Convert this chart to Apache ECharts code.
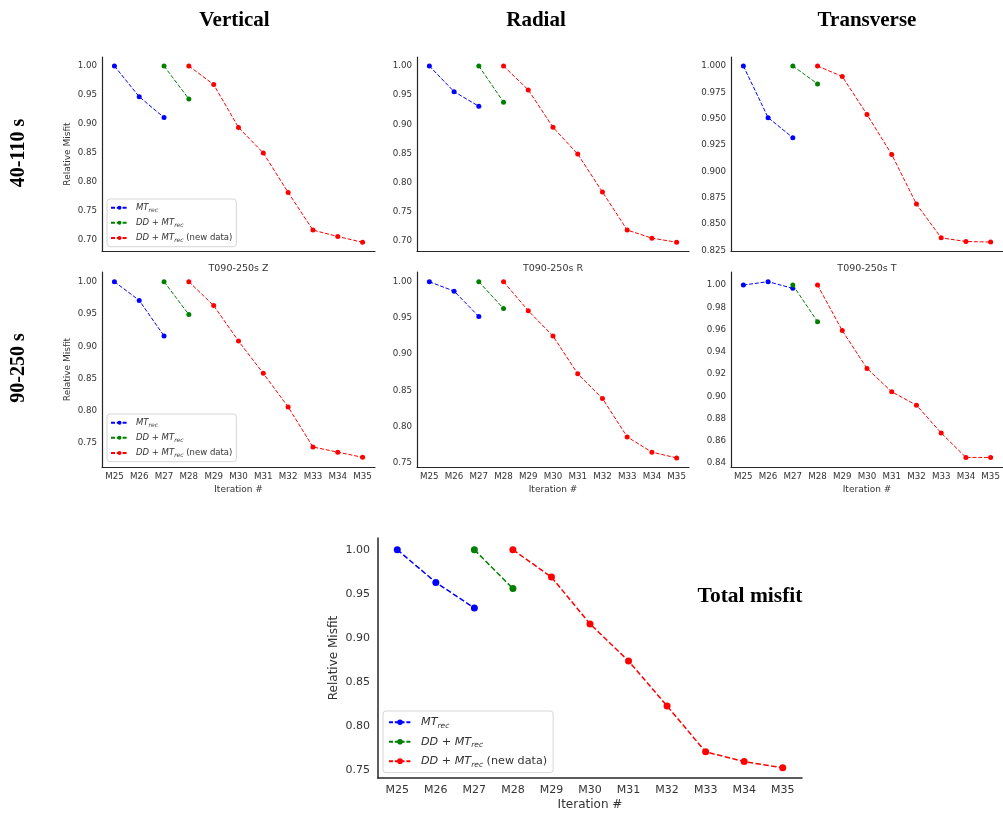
<!DOCTYPE html>
<html>
<head>
<meta charset="utf-8">
<script src="https://cdn.jsdelivr.net/npm/echarts@6/dist/echarts.min.js"></script>
<style>html,body{margin:0;padding:0;background:#fff;}#c{width:1003px;height:816px;}</style>
</head>
<body>
<div id="c"></div>
<script>
// ---------- DATA ----------
const iterations = ['M25','M26','M27','M28','M29','M30','M31','M32','M33','M34','M35'];
const seriesNames = ['MTrec', 'DD+MTrec', 'DD+MTrec (new data)'];
// start index into iterations for each series
const mtStart = 0, ddStart = 2, newStart = 3;

// 40-110 s
const vert40_mt  = [1.000, 0.947, 0.911];
const vert40_dd  = [1.000, 0.943];
const vert40_new = [1.000, 0.968, 0.894, 0.850, 0.782, 0.717, 0.706, 0.696];

const rad40_mt  = [1.000, 0.956, 0.931];
const rad40_dd  = [1.000, 0.938];
const rad40_new = [1.000, 0.959, 0.895, 0.849, 0.784, 0.719, 0.705, 0.698];

const trans40_mt  = [1.000, 0.951, 0.932];
const trans40_dd  = [1.000, 0.983];
const trans40_new = [1.000, 0.990, 0.954, 0.916, 0.869, 0.837, 0.8335, 0.833];

// 90-250 s
const vert90_mt  = [1.000, 0.971, 0.916];
const vert90_dd  = [1.000, 0.949];
const vert90_new = [1.000, 0.963, 0.908, 0.858, 0.806, 0.744, 0.736, 0.728];

const rad90_mt  = [1.000, 0.987, 0.952];
const rad90_dd  = [1.000, 0.963];
const rad90_new = [1.000, 0.960, 0.925, 0.873, 0.839, 0.786, 0.765, 0.757];

const trans90_mt  = [1.000, 1.003, 0.997];
const trans90_dd  = [1.000, 0.967];
const trans90_new = [1.000, 0.959, 0.925, 0.904, 0.892, 0.867, 0.845, 0.845];

// total
const total_mt  = [1.000, 0.963, 0.934];
const total_dd  = [1.000, 0.956];
const total_new = [1.000, 0.969, 0.916, 0.874, 0.823, 0.771, 0.760, 0.753];

// tick labels
const ticks_05a = [0.70, 0.75, 0.80, 0.85, 0.90, 0.95, 1.00];
const ticks_025 = [0.825, 0.850, 0.875, 0.900, 0.925, 0.950, 0.975, 1.000];
const ticks_05b = [0.75, 0.80, 0.85, 0.90, 0.95, 1.00];
const ticks_02  = [0.84, 0.86, 0.88, 0.90, 0.92, 0.94, 0.96, 0.98, 1.00];

const subTitles = ['T090-250s Z', 'T090-250s R', 'T090-250s T'];
const colTitles = ['Vertical', 'Radial', 'Transverse'];
const rowTitles = ['40-110 s', '90-250 s'];

// ---------- LAYOUT ----------
const panels = [
  {grid:{left:102, top:57, width:273, height:194}, min:0.681, max:1.0155, ticks:ticks_05a, dec:2, data:[vert40_mt, vert40_dd, vert40_new], xl:false, yname:true, legend:{left:107, top:199}},
  {grid:{left:417, top:57, width:272, height:194}, min:0.683, max:1.0154, ticks:ticks_05a, dec:2, data:[rad40_mt, rad40_dd, rad40_new], xl:false},
  {grid:{left:731, top:57, width:272, height:194}, min:0.8245, max:1.0085, ticks:ticks_025, dec:3, data:[trans40_mt, trans40_dd, trans40_new], xl:false},
  {grid:{left:102, top:272, width:273, height:195}, min:0.713, max:1.015, ticks:ticks_05b, dec:2, data:[vert90_mt, vert90_dd, vert90_new], xl:true, yname:true, legend:{left:107, top:414}},
  {grid:{left:417, top:272, width:272, height:195}, min:0.7445, max:1.0134, ticks:ticks_05b, dec:2, data:[rad90_mt, rad90_dd, rad90_new], xl:true},
  {grid:{left:731, top:272, width:272, height:195}, min:0.8364, max:1.0117, ticks:ticks_02, dec:2, data:[trans90_mt, trans90_dd, trans90_new], xl:true},
  {grid:{left:378, top:538, width:424, height:240}, min:0.7414, max:1.0133, ticks:ticks_05b, dec:2, data:[total_mt, total_dd, total_new], xl:true, yname:true, big:true, legend:{left:383, top:711}}
];
const colors = ['#0000ff', '#008000', '#ff0000'];
const starts = [mtStart, ddStart, newStart];
const axisColor = '#262626';
const textColor = '#333333';

const option = {
  animation: false,
  backgroundColor: '#ffffff',
  grid: [], xAxis: [], yAxis: [], series: [], legend: [], graphic: []
};

panels.forEach((p, i) => {
  const big = !!p.big;
  const fs = big ? 11 : 8.7;
  option.grid.push(Object.assign({containLabel:false}, p.grid));
  option.xAxis.push({
    type:'category', gridIndex:i, data:iterations, boundaryGap:true,
    axisLine:{show:true, lineStyle:{color:axisColor, width: big?1.5:1.2}},
    axisTick:{show:false}, splitLine:{show:false},
    axisLabel:{show:p.xl, color:textColor, fontSize:fs, margin: big?7:5, fontFamily:'DejaVu Sans', interval:0},
    name: p.xl ? 'Iteration #' : '', nameLocation:'middle', nameGap: big?21:18,
    nameTextStyle:{color:textColor, fontSize: big?12:9, fontFamily:'DejaVu Sans'}
  });
  option.yAxis.push({
    type:'value', gridIndex:i, min:p.min, max:p.max,
    axisLine:{show:true, lineStyle:{color:axisColor, width: big?1.5:1.2}},
    axisTick:{show:false}, splitLine:{show:false},
    axisLabel:{show:true, customValues:p.ticks, color:textColor, fontSize:fs, margin: big?8:5, fontFamily:'DejaVu Sans',
      formatter:(v)=>Number(v).toFixed(p.dec)},
    name: p.yname ? 'Relative Misfit' : '', nameLocation:'middle', nameGap: big?38:30,
    nameTextStyle:{color:textColor, fontSize: big?12:9, fontFamily:'DejaVu Sans'}
  });
  p.data.forEach((arr, k) => {
    option.series.push({
      name: seriesNames[k], type:'line', xAxisIndex:i, yAxisIndex:i,
      data: arr.map((v, j) => [iterations[starts[k] + j], v]),
      symbol:'circle', symbolSize: big?7:5,
      itemStyle:{color:colors[k]},
      lineStyle:{color:colors[k], width: big?1.5:1, type: big?[5.5,2.4]:[4,1.8]},
      z: 2 + k
    });
  });
  if (p.legend) {
    const lf = big ? 11.2 : 8.5;
    const sf = big ? 7.5 : 6;
    option.legend.push({
      orient:'vertical', left:p.legend.left, top:p.legend.top,
      data: seriesNames,
      backgroundColor:'#ffffff', borderColor:'#d6d6d6', borderWidth:1, borderRadius:3,
      padding: big ? [4,6,4,5] : [3,4,3,3],
      itemWidth: big?22:17, itemHeight: big?7:5, itemGap: big?4.7:3.6,
      selectedMode:false,
      formatter: function(name){
        if (name === seriesNames[0]) return '{i|MT}{s|rec}';
        if (name === seriesNames[1]) return '{i|DD + MT}{s|rec}';
        return '{i|DD + MT}{s|rec}{n| (new data)}';
      },
      textStyle:{
        color:textColor, fontFamily:'DejaVu Sans', fontSize:lf, lineHeight: big?14.5:11.5,
        rich:{
          i:{fontStyle:'italic', fontSize:lf, color:textColor, fontFamily:'DejaVu Sans', padding:[0,0,0, big?5:3]},
          s:{fontStyle:'italic', fontSize:sf, color:textColor, fontFamily:'DejaVu Sans', padding:[big?7:5,0,0,0]},
          n:{fontSize:lf, color:textColor, fontFamily:'DejaVu Sans'}
        }
      }
    });
  }
});

// subplot titles (row 2)
[3,4,5].forEach((pi, k) => {
  const g = panels[pi].grid;
  option.graphic.push({type:'text', x: g.left + g.width/2, y:268.5, style:{
    text: subTitles[k], fill:textColor, font:'9.5px "DejaVu Sans"', textAlign:'center', textVerticalAlign:'middle'}});
});
// column titles
const colCenters = [234.5, 536, 867];
colTitles.forEach((t, k) => {
  option.graphic.push({type:'text', x: colCenters[k], y:21, style:{
    text: t, fill:'#000', font:'bold 21px "Liberation Serif"', textAlign:'center', textVerticalAlign:'middle'}});
});
// row titles (rotated)
[[153, rowTitles[0]], [368, rowTitles[1]]].forEach(([cy, t]) => {
  option.graphic.push({type:'text', x:19, y:cy, rotation:Math.PI/2, style:{
    text: t, fill:'#000', font:'bold 20px "Liberation Serif"', textAlign:'center', textVerticalAlign:'middle'}});
});
// total misfit
option.graphic.push({type:'text', x:750, y:596, style:{
  text:'Total misfit', fill:'#000', font:'bold 21.5px "Liberation Serif"', textAlign:'center', textVerticalAlign:'middle'}});

const chart = echarts.init(document.getElementById('c'), null, {renderer:'canvas'});
chart.setOption(option);
</script>
</body>
</html>
